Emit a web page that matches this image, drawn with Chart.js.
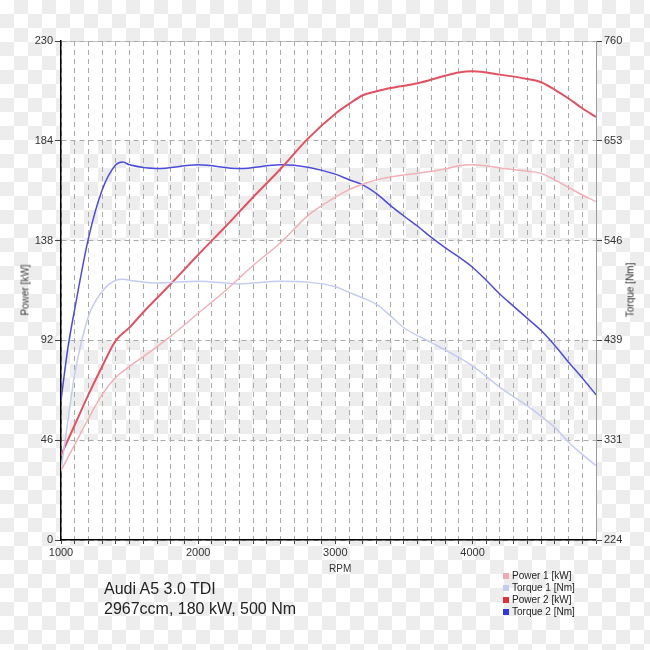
<!DOCTYPE html>
<html>
<head>
<meta charset="utf-8">
<script src="https://cdn.jsdelivr.net/npm/chart.js@4"></script>
<style>
  html, body { margin: 0; padding: 0; }
  body {
    width: 650px; height: 650px; position: relative; overflow: hidden;
    font-family: "Liberation Sans", Arial, sans-serif; color: #222;
    background-color: #fff;
    background-image: conic-gradient(#ededed 25%, #fff 0 50%, #ededed 0 75%, #fff 0);
    background-size: 28px 28px;
  }
  #wrap { position: absolute; left: 0; top: 0; width: 650px; height: 650px; }
  .lbl { position: absolute; font-size: 10px; color: #333; white-space: nowrap; font-weight: normal; }
  .rot { transform: translate(-50%, -50%) rotate(-90deg); }
  #title { position: absolute; left: 104px; top: 579px; font-size: 16px; line-height: 20px; color: #222; }
  #legend { position: absolute; left: 503px; top: 570px; font-size: 10px; line-height: 12px; color: #222; }
  #legend div { display: flex; align-items: center; }
  #legend span.sw { width: 6px; height: 6px; margin-right: 3px; display: inline-block; }
</style>
</head>
<body>
<div id="wrap"><canvas id="myChart" width="650" height="650"></canvas></div>
<div class="lbl rot" style="left:25px; top:290px;">Power [kW]</div>
<div class="lbl rot" style="left:630px; top:290px;">Torque [Nm]</div>
<div class="lbl" style="left:329px; top:563px;">RPM</div>
<div id="title">Audi A5 3.0 TDI<br>2967ccm, 180 kW, 500 Nm</div>
<div id="legend"></div>
<script>
// power curves (kW), left axis
var rpmPower = [1000, 1100, 1200, 1300, 1400, 1500, 1600, 1800, 2000, 2200, 2400, 2600, 2800, 3000, 3100, 3200, 3300, 3400, 3600, 3800, 3900, 4000, 4200, 4400, 4500, 4600, 4700, 4800, 4900];
var power1 = [32, 44, 56, 67, 75, 80, 84.5, 94, 104.5, 115, 126.5, 137, 149.5, 158, 161.5, 164, 166, 167.3, 169, 171, 172.5, 173, 171.5, 170, 169, 166, 162.5, 159, 156];
var power2 = [39, 53, 67, 80, 92, 98, 105, 118, 131.5, 144.5, 158, 171, 185, 196.5, 201, 205, 206.8, 208.3, 210.5, 214, 215.5, 216, 214.5, 212.5, 211, 207.5, 203.5, 199, 195];

// torque curves (Nm), right axis
var rpmTorque1 = [1000, 1050, 1100, 1200, 1300, 1400, 1450, 1500, 1700, 2000, 2300, 2600, 2800, 3000, 3100, 3200, 3300, 3400, 3500, 3700, 3900, 4000, 4200, 4400, 4500, 4600, 4700, 4800, 4900];
var torque1 = [299, 352, 402, 464, 491, 503, 504, 503, 500, 502, 499, 502, 501, 496, 490, 484, 477, 465, 452, 436, 420, 411, 388, 368, 357, 345, 329, 316, 304];

var rpmTorque2 = [1000, 1050, 1100, 1200, 1300, 1400, 1450, 1500, 1700, 2000, 2300, 2600, 2800, 3000, 3100, 3200, 3300, 3400, 3500, 3600, 3700, 3800, 3900, 4000, 4100, 4200, 4300, 4400, 4500, 4600, 4700, 4800, 4900];
var torque2 = [374, 430, 472, 548, 600, 627, 630, 627, 623, 627, 623, 627, 624.5, 617, 611, 605.5, 596, 583.5, 572, 561, 549, 538, 528, 517, 503, 488, 475, 462, 449, 433, 415, 398, 380];

var leftTicks = [0, 46, 92, 138, 184, 230];
var rightTicks = [224, 331.2, 438.4, 545.6, 652.8, 760];
var rightTickLabels = ['224', '331', '439', '546', '653', '760'];
var xLabels = ['1000', '2000', '3000', '4000'];

function pts(xs, ys) {
  return xs.map(function (x, i) { return { x: x, y: ys[i] }; });
}

// white plot area with two see-through bands
var plotBg = {
  id: 'plotBg',
  beforeDraw: function (chart) {
    var a = chart.chartArea, y = chart.scales.y, ctx = chart.ctx;
    ctx.save();
    ctx.fillStyle = '#fff';
    [[184, 230], [92, 138], [0, 46]].forEach(function (z) {
      var t = y.getPixelForValue(z[1]), b = y.getPixelForValue(z[0]);
      ctx.fillRect(a.left, t, a.right - a.left, b - t);
    });
    ctx.strokeStyle = '#c8c8c8';
    ctx.lineWidth = 1;
    ctx.beginPath();
    ctx.moveTo(a.left, a.top + 0.5);
    ctx.lineTo(a.right, a.top + 0.5);
    ctx.stroke();
    ctx.restore();
  }
};

var ctx = document.getElementById('myChart').getContext('2d');
var myChart = new Chart(ctx, {
  type: 'line',
  data: {
    datasets: [
      { label: 'Power 1 [kW]', data: pts(rpmPower, power1), yAxisID: 'y', borderColor: '#f3b0b8', swatch: '#f2a8b0', borderWidth: 1.5 },
      { label: 'Torque 1 [Nm]', data: pts(rpmTorque1, torque1), yAxisID: 'y1', borderColor: '#c4ccf2', swatch: '#c4ccf2', borderWidth: 1.5 },
      { label: 'Power 2 [kW]', data: pts(rpmPower, power2), yAxisID: 'y', borderColor: '#e25262', swatch: '#e0303e', borderWidth: 2 },
      { label: 'Torque 2 [Nm]', data: pts(rpmTorque2, torque2), yAxisID: 'y1', borderColor: '#4c4cdc', swatch: '#3036e0', borderWidth: 1.5 }
    ]
  },
  options: {
    responsive: false,
    animation: false,
    layout: { padding: { top: 41, left: 0, right: 0, bottom: 0 } },
    elements: {
      point: { radius: 0 },
      line: { cubicInterpolationMode: 'monotone', fill: false }
    },
    plugins: { legend: { display: false }, tooltip: { enabled: false } },
    scales: {
      x: {
        type: 'linear', min: 1000, max: 4900,
        afterFit: function (s) { s.height = 110; },
        ticks: {
          stepSize: 100, autoSkip: false, maxRotation: 0, padding: 2,
          color: '#333', font: { size: 11, family: 'Liberation Sans' },
          callback: function (v) { return xLabels.indexOf(String(v)) >= 0 ? String(v) : ''; }
        },
        grid: { color: '#aaa', lineWidth: 1, tickLength: 4, tickColor: '#444', tickBorderDash: [] },
        border: { color: '#000', width: 1.5, dash: [5, 4] }
      },
      y: {
        position: 'left', min: 0, max: 230,
        afterFit: function (s) { s.width = 61; },
        afterBuildTicks: function (s) { s.ticks = leftTicks.map(function (v) { return { value: v }; }); },
        ticks: { color: '#333', padding: 2, font: { size: 11, family: 'Liberation Sans' } },
        grid: { color: '#aaa', lineWidth: 1, tickLength: 6, tickColor: '#444', tickBorderDash: [] },
        border: { color: '#000', width: 1.5, dash: [5, 4] }
      },
      y1: {
        position: 'right', min: 224, max: 760,
        afterFit: function (s) { s.width = 54; },
        afterBuildTicks: function (s) { s.ticks = rightTicks.map(function (v) { return { value: v }; }); },
        ticks: {
          color: '#333', padding: 2, font: { size: 11, family: 'Liberation Sans' },
          callback: function (v, i) { return rightTickLabels[i]; }
        },
        grid: { drawOnChartArea: false, tickLength: 6, tickColor: '#444' },
        border: { color: '#999', width: 1 }
      }
    }
  },
  plugins: [plotBg]
});

// legend list under the plot
var leg = document.getElementById('legend');
myChart.data.datasets.forEach(function (d) {
  var row = document.createElement('div');
  var sw = document.createElement('span');
  sw.className = 'sw';
  sw.style.background = d.swatch;
  row.appendChild(sw);
  row.appendChild(document.createTextNode(d.label));
  leg.appendChild(row);
});
</script>
</body>
</html>
